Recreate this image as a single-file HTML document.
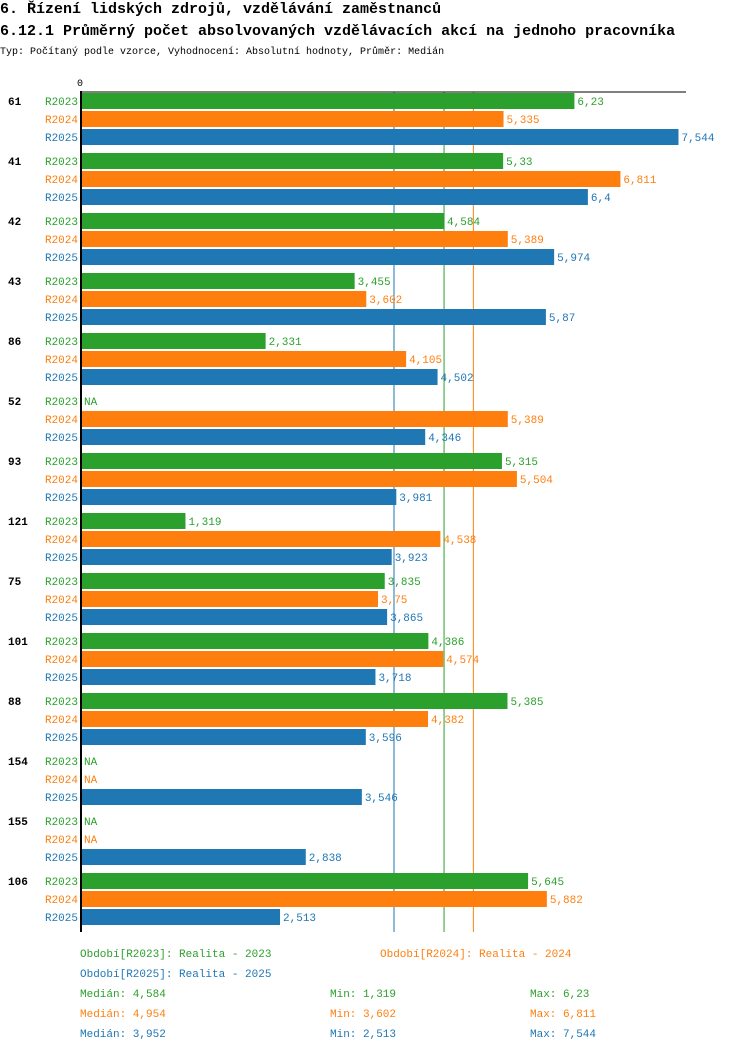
<!DOCTYPE html>
<html><head><meta charset="utf-8">
<style>
body{margin:0;background:#fff;width:750px;height:1052px;overflow:hidden;font-family:"Liberation Mono",monospace}
svg text{font-family:"Liberation Mono","DejaVu Sans Mono",monospace}
</style></head>
<body>
<svg id="c" width="750" height="1052" xmlns="http://www.w3.org/2000/svg">
<text x="0" y="13" font-size="15" font-weight="bold" fill="#000">6. Řízení lidských zdrojů, vzdělávání zaměstnanců</text>
<text x="0" y="35" font-size="15" font-weight="bold" fill="#000">6.12.1 Průměrný počet absolvovaných vzdělávacích akcí na jednoho pracovníka</text>
<text x="0" y="54" font-size="10" fill="#000">Typ: Počítaný podle vzorce, Vyhodnocení: Absolutní hodnoty, Průměr: Medián</text>
<g id="plot"></g>
</svg>
<script>
const categories=["61","41","42","43","86","52","93","121","75","101","88","154","155","106"];
const series=["R2023","R2024","R2025"];
const v2023=[6.23,5.33,4.584,3.455,2.331,null,5.315,1.319,3.835,4.386,5.385,null,null,5.645];
const v2024=[5.335,6.811,5.389,3.602,4.105,5.389,5.504,4.538,3.75,4.574,4.382,null,null,5.882];
const v2025=[7.544,6.4,5.974,5.87,4.502,4.346,3.981,3.923,3.865,3.718,3.596,3.546,2.838,2.513];
const medians=[4.584,4.954,3.952];
const mins=[1.319,3.602,2.513];
const maxs=[6.23,6.811,7.544];
const colors=["#2ca02c","#ff7f0e","#1f77b4"];
const NS="http://www.w3.org/2000/svg";
const g=document.getElementById('plot');
const x0=81, k=79.2;
const xs=v=>x0+v*k;
const fmt=v=>String(v).replace('.',',');
function el(t,a,txt){const e=document.createElementNS(NS,t);for(const n in a)e.setAttribute(n,a[n]);if(txt!=null)e.textContent=txt;g.appendChild(e);return e;}
const data=[v2023,v2024,v2025];
medians.forEach((m,i)=>{
  const l=el('line',{x1:xs(m),x2:xs(m),y1:92,y2:932,stroke:colors[i],'stroke-width':1});
  
  
});
categories.forEach((c,gi)=>{
  const top=93+60*gi;
  const t=el('text',{x:8,y:top+12,'font-size':11,'font-weight':'bold',fill:'#000'},c);
  
  
  series.forEach((s,si)=>{
    const y=top+18*si;
    const lab=el('text',{x:78,y:y+12,'font-size':11,fill:colors[si],'text-anchor':'end'},s);
    
    
    const v=data[si][gi];
    if(v==null){
      const na=el('text',{x:84,y:y+12,'font-size':11,fill:colors[si]},'NA');
      
      
      return;
    }
    const r=el('rect',{x:x0,y:y,width:xs(v)-x0,height:16,fill:colors[si]});
    
    
    const vt=el('text',{x:xs(v)+3,y:y+12,'font-size':11,fill:colors[si]},fmt(v));
    
    
  });
});
const ax=el('line',{x1:81,x2:81,y1:91,y2:932,stroke:'#000','stroke-width':2});


const tx=el('line',{x1:80,x2:686,y1:92,y2:92,stroke:'#000','stroke-width':1});


const z=el('text',{x:77,y:86,'font-size':10,fill:'#000'},'0');


const legs=[[80,957,'Období[R2023]: Realita - 2023',0],[380,957,'Období[R2024]: Realita - 2024',1],[80,977,'Období[R2025]: Realita - 2025',2]];
legs.forEach(l=>{const e=el('text',{x:l[0],y:l[1],'font-size':11,fill:colors[l[3]]},l[2]);

});
series.forEach((s,i)=>{
  const y=997+20*i;
  const a=el('text',{x:80,y:y,'font-size':11,fill:colors[i]},'Medián: '+fmt(medians[i]));
  
  
  const b=el('text',{x:330,y:y,'font-size':11,fill:colors[i]},'Min: '+fmt(mins[i]));
  
  
  const d=el('text',{x:530,y:y,'font-size':11,fill:colors[i]},'Max: '+fmt(maxs[i]));
  
  
});
</script>
</body></html>
